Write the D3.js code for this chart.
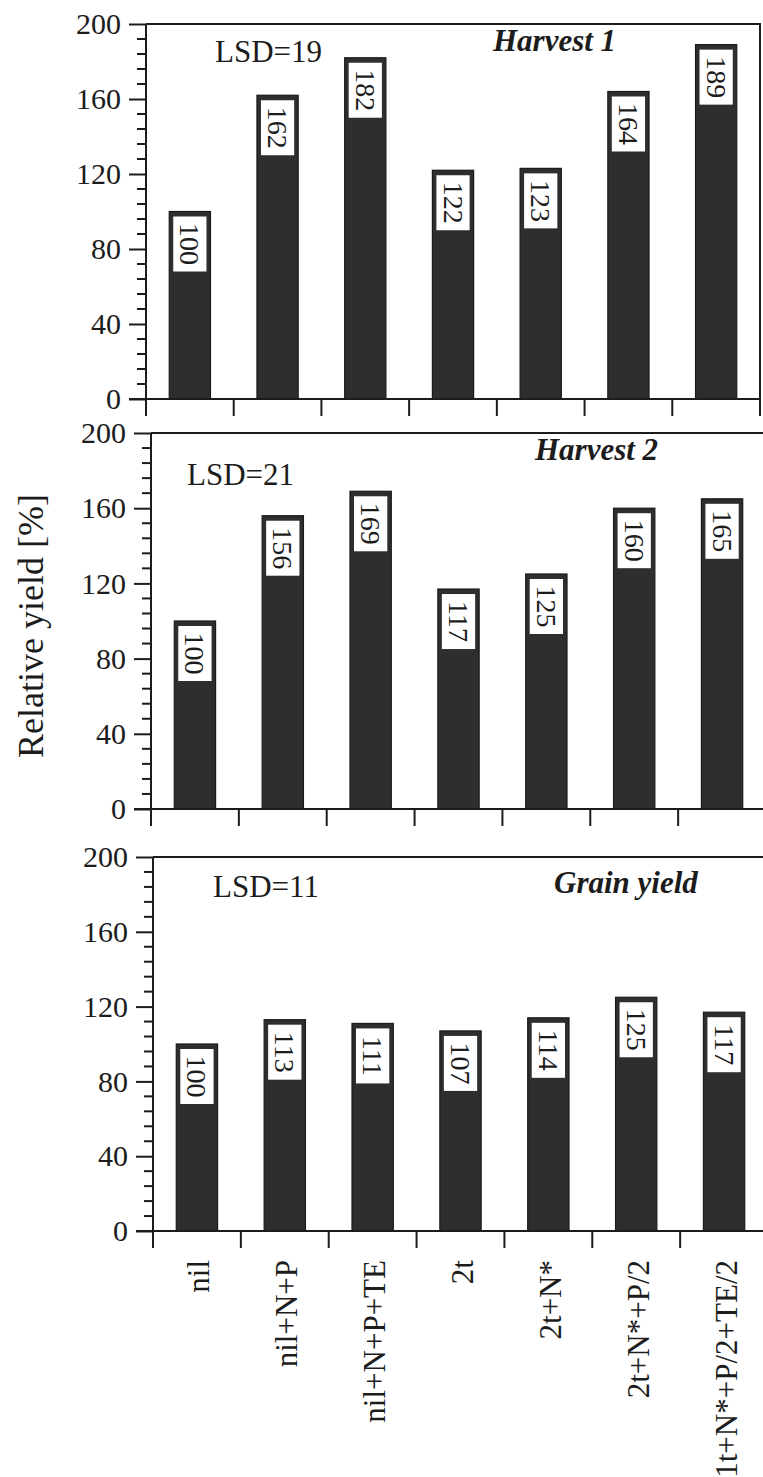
<!DOCTYPE html>
<html>
<head>
<meta charset="utf-8">
<script src="https://cdn.jsdelivr.net/npm/d3@7"></script>
<style>
  html, body { margin: 0; padding: 0; background: #fff; }
  svg { display: block; }
</style>
</head>
<body>
<svg id="chart" width="763" height="1477"></svg>
<script>
// Treatments along the x axis
const categories = ["nil", "nil+N+P", "nil+N+P+TE", "2t", "2t+N*", "2t+N*+P/2", "1t+N*+P/2+TE/2"];

// Relative yield (%) per treatment, nil = 100
const harvest1 = [100, 162, 182, 122, 123, 164, 189];
const harvest2 = [100, 156, 169, 117, 125, 160, 165];
const grainYield = [100, 113, 111, 107, 114, 125, 117];

const panelTitles = ["Harvest 1", "Harvest 2", "Grain yield"];
const lsdValues = [19, 21, 11];
const yTickValues = [0, 40, 80, 120, 160, 200];
const yMinorStep = 8;

const seriesList = [harvest1, harvest2, grainYield];

// Panel frames (pixels)
const layout = [
  { x0: 146, width: 614, top: 24,  bottom: 399, lsdX: 69, lsdY: 38, titleX: 347, titleY: 27 },
  { x0: 151, width: 615, top: 433, bottom: 809, lsdX: 36, lsdY: 52, titleX: 384, titleY: 27 },
  { x0: 153, width: 615, top: 857, bottom: 1231, lsdX: 60, lsdY: 40, titleX: 401, titleY: 36 }
];

const FONT = '"Liberation Serif"';
const svg = d3.select("#chart");
const ink = "#1c1c1c";
const barFill = "#2e2e2e";
const majorLen = 17, minorLen = 9, xTickLen = 17;

function serif(sel, size) {
  return sel.style("font-family", FONT).style("font-size", size + "px").attr("fill", ink);
}

seriesList.forEach((values, i) => {
  const L = layout[i];
  const x = d3.scaleBand()
    .domain(categories)
    .range([L.x0, L.x0 + L.width])
    .paddingInner(0.53)
    .paddingOuter(0.265);
  const y = d3.scaleLinear().domain([0, 200]).range([L.bottom, L.top]);
  const step = x.step();
  const g = svg.append("g");

  // frame: top and right edges
  g.append("path")
    .attr("d", `M${L.x0},${L.top}H${L.x0 + L.width}V${L.bottom}`)
    .attr("fill", "none").attr("stroke", ink).attr("stroke-width", 2);

  // bars
  const bars = g.selectAll("g.bar").data(values).join("g").attr("class", "bar");
  bars.append("rect")
    .attr("x", (d, j) => x(categories[j]))
    .attr("y", d => y(d))
    .attr("width", x.bandwidth())
    .attr("height", d => y(0) - y(d))
    .attr("fill", barFill)
    .attr("stroke", "#1a1a1a")
    .attr("stroke-width", 1.2);

  // value boxes near the top of each bar
  const boxInset = 4, boxTop = 5, boxH = 55;
  bars.append("rect")
    .attr("x", (d, j) => x(categories[j]) + boxInset)
    .attr("y", d => y(d) + boxTop)
    .attr("width", x.bandwidth() - 2 * boxInset)
    .attr("height", boxH)
    .attr("fill", "#fff");
  serif(bars.append("text"), 28)
    .attr("transform", (d, j) =>
      `translate(${x(categories[j]) + x.bandwidth() / 2},${y(d) + boxTop + boxH / 2}) rotate(90)`)
    .attr("text-anchor", "middle")
    .attr("dominant-baseline", "central")
    .text(d => d);

  // y axis
  const yAxis = d3.axisLeft(y)
    .tickValues(yTickValues)
    .tickSize(majorLen)
    .tickPadding(8)
    .tickSizeOuter(0);
  const ya = g.append("g").attr("transform", `translate(${L.x0},0)`).call(yAxis);
  ya.attr("font-family", null).attr("font-size", null);
  ya.select(".domain").remove();
  ya.selectAll("line").attr("stroke", ink).attr("stroke-width", 2);
  serif(ya.selectAll("text"), 30);

  // minor ticks
  const minors = d3.range(0, 201, yMinorStep).filter(v => v % 40 !== 0);
  g.selectAll("line.minor").data(minors).join("line")
    .attr("class", "minor")
    .attr("x1", L.x0 - minorLen).attr("x2", L.x0)
    .attr("y1", d => y(d)).attr("y2", d => y(d))
    .attr("stroke", ink).attr("stroke-width", 2);

  // y axis line, extended down to meet the first x tick
  g.append("line")
    .attr("x1", L.x0).attr("x2", L.x0)
    .attr("y1", L.top).attr("y2", L.bottom + xTickLen)
    .attr("stroke", ink).attr("stroke-width", 2);

  // x axis baseline
  g.append("line")
    .attr("x1", L.x0 - majorLen).attr("x2", L.x0 + L.width)
    .attr("y1", L.bottom).attr("y2", L.bottom)
    .attr("stroke", ink).attr("stroke-width", 2);

  // x ticks at the boundaries between treatments
  const bounds = d3.range(1, categories.length + 1).map(k => L.x0 + k * step);
  g.selectAll("line.xtick").data(bounds).join("line")
    .attr("class", "xtick")
    .attr("x1", d => d).attr("x2", d => d)
    .attr("y1", L.bottom).attr("y2", L.bottom + xTickLen)
    .attr("stroke", ink).attr("stroke-width", 2);

  // LSD annotation
  serif(g.append("text"), 31)
    .attr("x", L.x0 + L.lsdX).attr("y", L.top + L.lsdY)
    .text(`LSD=${lsdValues[i]}`);

  // panel title
  serif(g.append("text"), 31)
    .attr("x", L.x0 + L.titleX).attr("y", L.top + L.titleY)
    .style("font-weight", "bold")
    .style("font-style", "italic")
    .text(panelTitles[i]);

  // treatment labels under the last panel
  if (i === seriesList.length - 1) {
    serif(g.selectAll("text.cat").data(categories).join("text").attr("class", "cat"), 31)
      .attr("transform", d => `translate(${x(d) + x.bandwidth() / 2 + 2},${L.bottom + 29}) rotate(-90)`)
      .attr("text-anchor", "end")
      .attr("dominant-baseline", "central")
      .text(d => d);
  }
});

// shared y axis title
serif(svg.append("text"), 36)
  .attr("transform", "translate(31,626) rotate(-90)")
  .attr("text-anchor", "middle")
  .attr("dominant-baseline", "central")
  .text("Relative yield [%]");
</script>
</body>
</html>
